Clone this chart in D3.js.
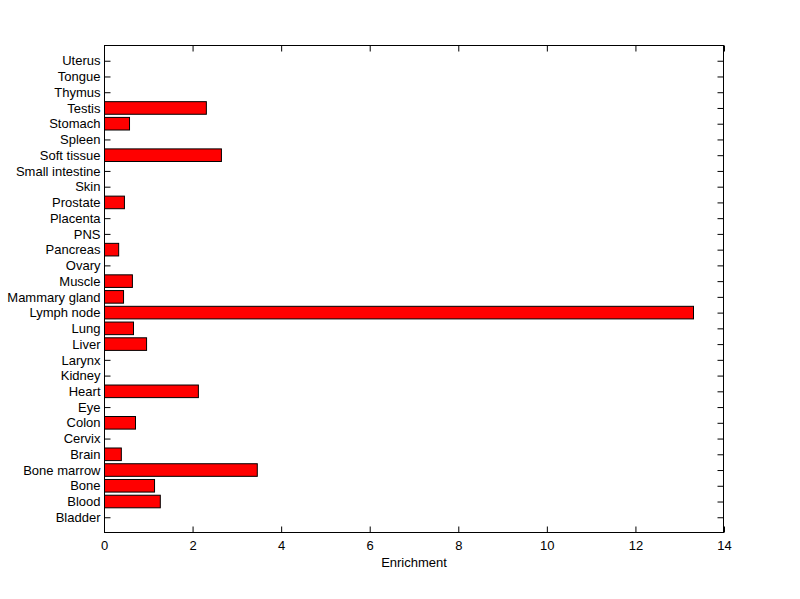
<!DOCTYPE html>
<html><head><meta charset="utf-8">
<script src="https://cdn.jsdelivr.net/npm/d3@7"></script>
<style>body{margin:0;background:#fff;} svg{display:block;} text{font-family:"Liberation Sans",Arial,sans-serif;font-size:13px;fill:#000;}</style>
</head><body>
<script>
const categories = ["Bladder","Blood","Bone","Bone marrow","Brain","Cervix","Colon","Eye","Heart","Kidney","Larynx","Liver","Lung","Lymph node","Mammary gland","Muscle","Ovary","Pancreas","PNS","Placenta","Prostate","Skin","Small intestine","Soft tissue","Spleen","Stomach","Testis","Thymus","Tongue","Uterus"];
const values = [0,1.26,1.13,3.45,0.38,0,0.70,0,2.12,0,0,0.95,0.655,13.3,0.43,0.63,0,0.32,0,0,0.45,0,0,2.64,0,0.565,2.30,0,0,0];
const xTicks = [0,2,4,6,8,10,12,14];
const xLabel = "Enrichment";

const W=800,H=599;
const L=104,R=724,T=45,B=533;
const svg=d3.select("body").append("svg").attr("width",W).attr("height",H);
const x=d3.scaleLinear().domain([0,14]).range([L,R]);
const y=d3.scaleLinear().domain([0,categories.length+1]).range([B,T]);
const bw=(y(0)-y(1))*0.8;

const tl=6;
const yAxisL=d3.axisLeft(y).tickValues(d3.range(1,categories.length+1)).tickFormat(d=>categories[d-1]).tickSizeInner(-tl).tickSizeOuter(0).tickPadding(4);
const gL=svg.append("g").attr("transform",`translate(${L+0.5},0)`).call(yAxisL);
const yAxisR=d3.axisRight(y).tickValues(d3.range(1,categories.length+1)).tickFormat("").tickSizeInner(-tl).tickSizeOuter(0);
const gR=svg.append("g").attr("transform",`translate(${R-0.5},0)`).call(yAxisR);
const xAxisB=d3.axisBottom(x).tickValues(xTicks).tickFormat(d3.format("d")).tickSizeInner(-tl).tickSizeOuter(0).tickPadding(8);
const gB=svg.append("g").attr("transform",`translate(0,${B-0.5})`).call(xAxisB);
const xAxisT=d3.axisTop(x).tickValues(xTicks).tickFormat("").tickSizeInner(-tl).tickSizeOuter(0);
const gT=svg.append("g").attr("transform",`translate(0,${T+0.5})`).call(xAxisT);
[gL,gR,gB,gT].forEach(g=>{g.select(".domain").remove();g.selectAll("text").attr("font-size",13).attr("font-family","Liberation Sans, Arial, sans-serif").attr("fill","#000");g.selectAll("line").attr("stroke","#000");});
gB.selectAll("text").attr("dy","0.71em");

svg.append("g").selectAll("rect").data(values.map((v,i)=>({v,i})).filter(d=>d.v>0)).join("rect")
  .attr("x",x(0)+0.5).attr("y",d=>y(d.i+1)-bw/2)
  .attr("width",d=>x(d.v)-x(0)).attr("height",bw)
  .attr("fill","#ff0000").attr("stroke","#000").attr("stroke-width",1);

// frame
svg.append("rect").attr("x",L+0.5).attr("y",T+0.5).attr("width",R-L-1).attr("height",B-T-1)
  .attr("fill","none").attr("stroke","#000").attr("stroke-width",1);

svg.append("text").attr("x",(L+R)/2).attr("y",567).attr("text-anchor","middle").attr("font-size",13).text(xLabel);
</script>
</body></html>
